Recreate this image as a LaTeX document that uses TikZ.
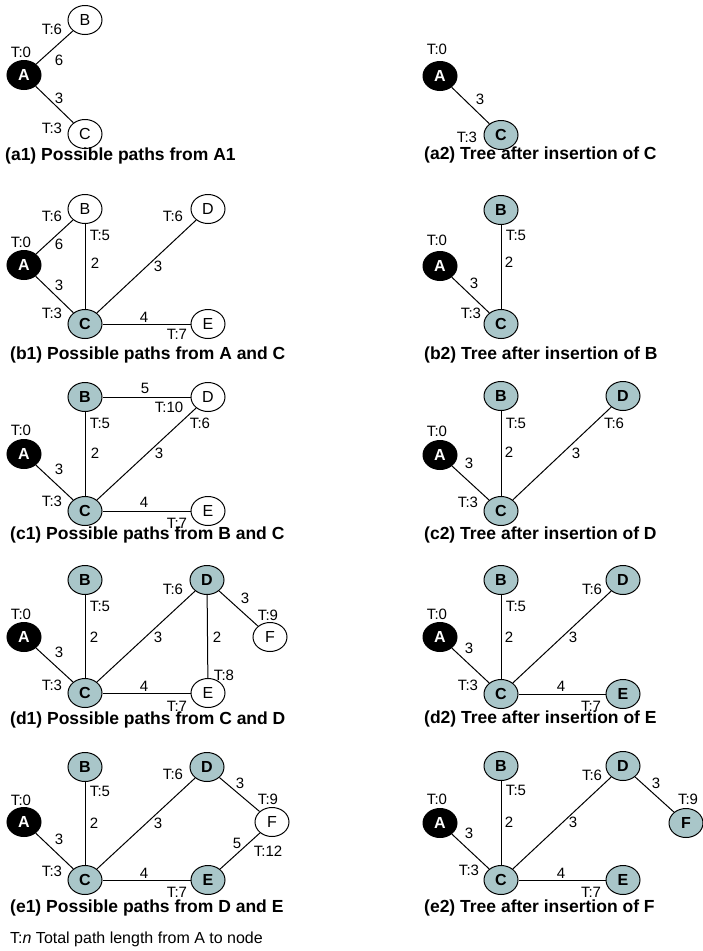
\documentclass[tikz,border=0pt]{standalone}
\usepackage{fontspec}
\setmainfont{Liberation Sans}
\usetikzlibrary{shapes.geometric}
\definecolor{donefill}{RGB}{169,198,201}

\tikzset{
  vtx/.style={draw, ellipse, line width=1pt, minimum width=34pt, minimum height=29pt, inner sep=0pt, font=\fontsize{16}{18}\selectfont},
  seenv/.style={vtx, fill=white},
  donev/.style={vtx, fill=donefill, font=\fontsize{16}{18}\selectfont\bfseries},
  rootv/.style={vtx, fill=black, text=white, font=\fontsize{16}{18}\selectfont\bfseries},
  lbl/.style={inner sep=0pt, font=\fontsize{15}{17}\selectfont},
  capt/.style={anchor=west, inner sep=0pt, font=\fontsize{17.5}{20}\selectfont\bfseries},
  link/.style={line width=1pt}
}

\begin{document}
\begin{tikzpicture}[x=1pt, y=-1pt]
\useasboundingbox (0,0) rectangle (702,951);

% (a1)
\node[rootv] (a1A) at (24,75) {A};
\node[seenv] (a1B) at (85,20) {B};
\node[seenv] (a1C) at (85,134) {C};
\draw[link] (a1A) -- (a1B);
\draw[link] (a1A) -- (a1C);
\node[lbl] (a1tA) at (21,52) {T:0};
\node[lbl] (a1tB) at (52,29) {T:6};
\node[lbl] (a1wAB) at (59,60) {6};
\node[lbl] (a1wAC) at (59,98) {3};
\node[lbl] (a1tC) at (52,128) {T:3};
\node[capt] (a1cap) at (5,156) {(a1) Possible paths from A1};

% (a2)
\node[rootv] (a2A) at (440,76) {A};
\node[donev] (a2C) at (501,135) {C};
\draw[link] (a2A) -- (a2C);
\node[lbl] (a2tA) at (437,49) {T:0};
\node[lbl] (a2wAC) at (480,99) {3};
\node[lbl] (a2tC) at (467,137) {T:3};
\node[capt] (a2cap) at (424,155) {(a2) Tree after insertion of C};

% (b1)
\node[rootv] (b1A) at (24,265) {A};
\node[seenv] (b1B) at (85,209) {B};
\node[donev] (b1C) at (85,324) {C};
\node[seenv] (b1D) at (208,209) {D};
\node[seenv] (b1E) at (208,324) {E};
\draw[link] (b1A) -- (b1B);
\draw[link] (b1A) -- (b1C);
\draw[link] (b1C) -- (b1B);
\draw[link] (b1C) -- (b1D);
\draw[link] (b1C) -- (b1E);
\node[lbl] (b1tA) at (21,242) {T:0};
\node[lbl] (b1tB) at (52,216) {T:6};
\node[lbl] (b1wAB) at (59,244) {6};
\node[lbl] (b1tB2) at (100,235) {T:5};
\node[lbl] (b1wBC) at (95,263) {2};
\node[lbl] (b1wAC) at (59,285) {3};
\node[lbl] (b1tC) at (52,313) {T:3};
\node[lbl] (b1tD) at (173,216) {T:6};
\node[lbl] (b1wCD) at (158,266) {3};
\node[lbl] (b1wCE) at (144,317) {4};
\node[lbl] (b1tE) at (177,334) {T:7};
\node[capt] (b1cap) at (10,355) {(b1) Possible paths from A and C};

% (b2)
\node[rootv] (b2A) at (440,266) {A};
\node[donev] (b2B) at (501,210) {B};
\node[donev] (b2C) at (501,324) {C};
\draw[link] (b2A) -- (b2C);
\draw[link] (b2C) -- (b2B);
\node[lbl] (b2tA) at (437,240) {T:0};
\node[lbl] (b2tB) at (516,235) {T:5};
\node[lbl] (b2wBC) at (509,262) {2};
\node[lbl] (b2wAC) at (474,283) {3};
\node[lbl] (b2tC) at (471,313) {T:3};
\node[capt] (b2cap) at (424,355) {(b2) Tree after insertion of B};

% (c1)
\node[rootv] (c1A) at (24,454) {A};
\node[donev] (c1B) at (85,397) {B};
\node[donev] (c1C) at (85,511) {C};
\node[seenv] (c1D) at (208,397) {D};
\node[seenv] (c1E) at (208,511) {E};
\draw[link] (c1A) -- (c1C);
\draw[link] (c1C) -- (c1B);
\draw[link] (c1B) -- (c1D);
\draw[link] (c1C) -- (c1D);
\draw[link] (c1C) -- (c1E);
\node[lbl] (c1tA) at (21,430) {T:0};
\node[lbl] (c1wBD) at (145,388) {5};
\node[lbl] (c1tD) at (169,407) {T:10};
\node[lbl] (c1tB) at (100,423) {T:5};
\node[lbl] (c1tD2) at (200,423) {T:6};
\node[lbl] (c1wBC) at (95,453) {2};
\node[lbl] (c1wCD) at (159,453) {3};
\node[lbl] (c1wAC) at (59,469) {3};
\node[lbl] (c1tC) at (52,501) {T:3};
\node[lbl] (c1wCE) at (144,502) {4};
\node[lbl] (c1tE) at (177,523) {T:7};
\node[capt] (c1cap) at (10,535) {(c1) Possible paths from B and C};

% (c2)
\node[rootv] (c2A) at (440,455) {A};
\node[donev] (c2B) at (501,396) {B};
\node[donev] (c2C) at (501,511) {C};
\node[donev] (c2D) at (623,396) {D};
\draw[link] (c2A) -- (c2C);
\draw[link] (c2C) -- (c2B);
\draw[link] (c2C) -- (c2D);
\node[lbl] (c2tA) at (437,431) {T:0};
\node[lbl] (c2tB) at (516,423) {T:5};
\node[lbl] (c2tD) at (614,423) {T:6};
\node[lbl] (c2wBC) at (509,452) {2};
\node[lbl] (c2wCD) at (576,453) {3};
\node[lbl] (c2wAC) at (469,463) {3};
\node[lbl] (c2tC) at (468,502) {T:3};
\node[capt] (c2cap) at (424,535) {(c2) Tree after insertion of D};

% (d1)
\node[rootv] (d1A) at (24,637) {A};
\node[donev] (d1B) at (85,580) {B};
\node[donev] (d1C) at (85,693) {C};
\node[donev] (d1D) at (207,580) {D};
\node[seenv] (d1E) at (208,693) {E};
\node[seenv] (d1F) at (270,637) {F};
\draw[link] (d1A) -- (d1C);
\draw[link] (d1C) -- (d1B);
\draw[link] (d1C) -- (d1D);
\draw[link] (d1C) -- (d1E);
\draw[link] (d1D) -- (d1E);
\draw[link] (d1D) -- (d1F);
\node[lbl] (d1tD) at (173,589) {T:6};
\node[lbl] (d1wDF) at (245,598) {3};
\node[lbl] (d1tB) at (100,606) {T:5};
\node[lbl] (d1tF) at (268,615) {T:9};
\node[lbl] (d1tA) at (21,614) {T:0};
\node[lbl] (d1wBC) at (94,637) {2};
\node[lbl] (d1wCD) at (158,637) {3};
\node[lbl] (d1wDE) at (217,637) {2};
\node[lbl] (d1wAC) at (59,652) {3};
\node[lbl] (d1tE) at (224,675) {T:8};
\node[lbl] (d1tC) at (52,685) {T:3};
\node[lbl] (d1wCE) at (144,686) {4};
\node[lbl] (d1tE2) at (177,706) {T:7};
\node[capt] (d1cap) at (10,720) {(d1) Possible paths from C and D};

% (d2)
\node[rootv] (d2A) at (440,637) {A};
\node[donev] (d2B) at (501,580) {B};
\node[donev] (d2C) at (501,694) {C};
\node[donev] (d2D) at (623,580) {D};
\node[donev] (d2E) at (623,694) {E};
\draw[link] (d2A) -- (d2C);
\draw[link] (d2C) -- (d2B);
\draw[link] (d2C) -- (d2D);
\draw[link] (d2C) -- (d2E);
\node[lbl] (d2tA) at (437,614) {T:0};
\node[lbl] (d2tD) at (592,589) {T:6};
\node[lbl] (d2tB) at (516,606) {T:5};
\node[lbl] (d2wBC) at (509,637) {2};
\node[lbl] (d2wCD) at (573,637) {3};
\node[lbl] (d2wAC) at (469,648) {3};
\node[lbl] (d2tC) at (468,685) {T:3};
\node[lbl] (d2wCE) at (561,686) {4};
\node[lbl] (d2tE) at (591,706) {T:7};
\node[capt] (d2cap) at (424,719) {(d2) Tree after insertion of E};

% (e1)
\node[rootv] (e1A) at (24,822) {A};
\node[donev] (e1B) at (85,767) {B};
\node[donev] (e1C) at (85,880) {C};
\node[donev] (e1D) at (207,767) {D};
\node[donev] (e1E) at (208,880) {E};
\node[seenv] (e1F) at (272,822) {F};
\draw[link] (e1A) -- (e1C);
\draw[link] (e1C) -- (e1B);
\draw[link] (e1C) -- (e1D);
\draw[link] (e1C) -- (e1E);
\draw[link] (e1D) -- (e1F);
\draw[link] (e1E) -- (e1F);
\node[lbl] (e1tD) at (173,774) {T:6};
\node[lbl] (e1wDF) at (240,783) {3};
\node[lbl] (e1tB) at (100,791) {T:5};
\node[lbl] (e1tF) at (268,799) {T:9};
\node[lbl] (e1tA) at (21,800) {T:0};
\node[lbl] (e1wBC) at (94,823) {2};
\node[lbl] (e1wCD) at (158,823) {3};
\node[lbl] (e1wAC) at (59,839) {3};
\node[lbl] (e1wEF) at (237,843) {5};
\node[lbl] (e1tF2) at (268,851) {T:12};
\node[lbl] (e1tC) at (52,871) {T:3};
\node[lbl] (e1wCE) at (144,873) {4};
\node[lbl] (e1tE) at (177,892) {T:7};
\node[capt] (e1cap) at (10,908) {(e1) Possible paths from D and E};

% (e2)
\node[rootv] (e2A) at (440,823) {A};
\node[donev] (e2B) at (501,766) {B};
\node[donev] (e2C) at (501,880) {C};
\node[donev] (e2D) at (623,766) {D};
\node[donev] (e2E) at (623,880) {E};
\node[donev] (e2F) at (686,823) {F};
\draw[link] (e2A) -- (e2C);
\draw[link] (e2C) -- (e2B);
\draw[link] (e2C) -- (e2D);
\draw[link] (e2C) -- (e2E);
\draw[link] (e2D) -- (e2F);
\node[lbl] (e2tD) at (592,775) {T:6};
\node[lbl] (e2wDF) at (656,783) {3};
\node[lbl] (e2tB) at (516,790) {T:5};
\node[lbl] (e2tF) at (688,799) {T:9};
\node[lbl] (e2tA) at (437,799) {T:0};
\node[lbl] (e2wBC) at (509,822) {2};
\node[lbl] (e2wCD) at (573,822) {3};
\node[lbl] (e2wAC) at (469,833) {3};
\node[lbl] (e2tC) at (469,870) {T:3};
\node[lbl] (e2wCE) at (561,873) {4};
\node[lbl] (e2tE) at (591,892) {T:7};
\node[capt] (e2cap) at (424,908) {(e2) Tree after insertion of F};

% key
\node[anchor=west, inner sep=0pt, font=\fontsize{16}{18}\selectfont] (key) at (10,939) {T:\textit{n} Total path length from A to node};
\end{tikzpicture}
\end{document}
